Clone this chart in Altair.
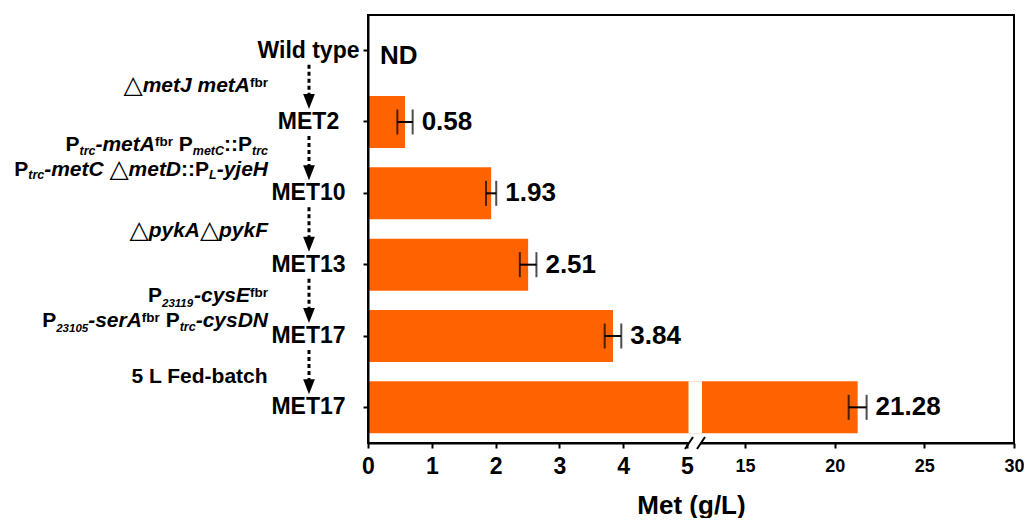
import altair as alt
import pandas as pd

# ---------------- data ----------------
strains = ["Wild type", "MET2", "MET10", "MET13", "MET17", "MET17 (5 L)"]
titers = [None, 0.58, 1.93, 2.51, 3.84, 21.28]
errors = [None, 0.12, 0.08, 0.13, 0.13, 0.50]
value_labels = ["ND", "0.58", "1.93", "2.51", "3.84", "21.28"]
x_ticks = [0, 1, 2, 3, 4, 5, 15, 20, 25, 30]
axis_break = [5, 12.6]          # broken-axis interval (g/L)
x_title = "Met (g/L)"

# genetic modifications between strains (text, style)
annotations = [
    [[("tri", "△"), ("bi", "metJ metA"), ("sup", "fbr")]],
    [[("b", "P"), ("sub", "trc"), ("bi", "-metA"), ("sup", "fbr"), ("gap", " "), ("b", "P"),
      ("sub", "metC"), ("b", "::P"), ("sub", "trc")],
     [("b", "P"), ("sub", "trc"), ("bi", "-metC"), ("gap", " "), ("tri", "△"), ("bi", "metD"),
      ("b", "::P"), ("sub", "L"), ("bi", "-yjeH")]],
    [[("tri", "△"), ("bi", "pykA"), ("tri", "△"), ("bi", "pykF")]],
    [[("b", "P"), ("sub2", "23119"), ("bi", "-cysE"), ("sup", "fbr")],
     [("b", "P"), ("sub2", "23105"), ("bi", "-serA"), ("sup", "fbr"), ("gap", " "), ("b", "P"),
      ("sub", "trc"), ("bi", "-cysDN")]],
    [[("b", "5 L Fed-batch")]],
]

# ---------------- layout / style ----------------
FONT = "Liberation Sans"
ORANGE = "#FF6200"
W, H = 646, 428
ORIGIN = (368, 15)               # plot origin on the page
BREAK_PX = [319, 334]            # pixel positions of the break interval

df = pd.DataFrame({"strain": strains, "titer": titers, "err": errors, "label": value_labels})
df["lo"] = df["titer"] - df["err"]
df["hi"] = df["titer"] + df["err"]

x_scale = alt.Scale(domain=[0, axis_break[0], axis_break[1], 30],
                    range=[0, BREAK_PX[0], BREAK_PX[1], W], nice=False)
y_scale = alt.Scale(domain=strains, paddingInner=0.27, paddingOuter=0.135)

x_axis = alt.Axis(
    values=x_ticks, format="d", grid=False, zindex=0,
    domainColor="black", domainWidth=2, tickColor="black", tickWidth=2, tickSize=5,
    labelFont=FONT, labelFontWeight="bold", labelColor="black",
    labelFontSize={"condition": {"test": "datum.value <= 5", "value": 23}, "value": 18},
    labelBaseline="middle", labelPadding=18, labelFlush=False, labelOverlap=False,
    titleFont=FONT, titleFontWeight="bold", titleFontSize=26, titleColor="black", titlePadding=14,
)
y_axis = alt.Axis(
    grid=False, zindex=1, domainColor="black", domainWidth=2, tickColor="black", tickWidth=2,
    tickSize=5, labelFont=FONT, labelFontWeight="bold", labelFontSize=23, labelColor="black",
    labelAlign="center", labelBaseline="middle", labelPadding=55,
    labelExpr="split(datum.value, ' (')[0]",
)

base = alt.Chart(df)
Y = alt.Y("strain:N", scale=y_scale, axis=y_axis, title=None)

bars = base.mark_bar(color=ORANGE).encode(
    x=alt.X("titer:Q", scale=x_scale, axis=x_axis, title=x_title), y=Y)

gap_df = pd.DataFrame({"strain": [strains[-1]], "b0": [axis_break[0]], "b1": [axis_break[1]]})
gap = alt.Chart(gap_df).mark_rect(color="white", xOffset=1.5).encode(
    x=alt.X("b0:Q", scale=x_scale), x2="b1:Q", y=alt.Y("strain:N", scale=y_scale))

err_rule = base.mark_rule(color="black", strokeWidth=2).encode(
    x=alt.X("lo:Q", scale=x_scale), x2="hi:Q", y=alt.Y("strain:N", scale=y_scale))
cap_lo = base.mark_tick(color="black", thickness=2, size=25).encode(
    x=alt.X("lo:Q", scale=x_scale), y=alt.Y("strain:N", scale=y_scale))
cap_hi = base.mark_tick(color="black", thickness=2, size=25).encode(
    x=alt.X("hi:Q", scale=x_scale), y=alt.Y("strain:N", scale=y_scale))

vlabels = base.transform_filter("isValid(datum.titer)").mark_text(
    align="left", baseline="middle", dx=9, font=FONT, fontWeight="bold", fontSize=26, color="black"
).encode(x=alt.X("hi:Q", scale=x_scale), y=alt.Y("strain:N", scale=y_scale), text="label:N")
nd = base.transform_filter("!isValid(datum.titer)").mark_text(
    align="left", baseline="middle", dx=12, dy=5, font=FONT, fontWeight="bold", fontSize=26, color="black"
).encode(x=alt.value(0), y=alt.Y("strain:N", scale=y_scale), text="label:N")

# arrows between strains
ARROW_X = 309 - ORIGIN[0]
arrow_df = pd.DataFrame({"strain": strains[:-1], "dst": strains[1:]})
dotted = alt.Chart(arrow_df).mark_rule(
    color="black", strokeWidth=3, strokeDash=[4, 3], yOffset=14, y2Offset=-27
).encode(x=alt.value(ARROW_X), y=alt.Y("strain:N", scale=y_scale), y2="dst:N")
heads = alt.Chart(arrow_df).mark_point(
    shape="M-0.78,-1L0.78,-1L0,1Z", size=225, filled=True, color="black", opacity=1, yOffset=-20.5
).encode(x=alt.value(ARROW_X), y=alt.Y("dst:N", scale=y_scale))

# broken-axis marks
axis_cut = alt.Chart(gap_df).mark_rect(color="white").encode(
    x=alt.value(BREAK_PX[0] + 2), x2=alt.value(BREAK_PX[1] - 1), y=alt.value(H - 4), y2=alt.value(H + 4))
slashes = []
for cx in (BREAK_PX[0] + 2, BREAK_PX[1] - 1):
    slashes.append(alt.Chart(gap_df).mark_rule(color="black", strokeWidth=2).encode(
        x=alt.value(cx - 4), x2=alt.value(cx + 4), y=alt.value(H + 6), y2=alt.value(H - 6)))

# annotation text (rich text built from segments)
CW = {" ": 278, "-": 333, ":": 333, ".": 278}
CW.update({d: 556 for d in "0123456789"})
CW.update(dict(zip("ABCDEFGHIJKLMNOPQRSTUVWXYZ",
                   [722, 722, 722, 722, 667, 611, 778, 722, 278, 556, 722, 611, 833, 722, 778, 667,
                    778, 722, 667, 611, 722, 667, 944, 667, 667, 611])))
CW.update(dict(zip("abcdefghijklmnopqrstuvwxyz",
                   [556, 611, 556, 611, 556, 333, 611, 611, 278, 278, 556, 278, 889, 611, 611, 611,
                    611, 389, 556, 333, 611, 556, 778, 556, 556, 500])))
STY = {
    "b": (21, "normal", 0), "bi": (21, "italic", 0), "sub": (12.5, "italic", 3.5),
    "sub2": (11.5, "italic", 5), "sup": (13.5, "normal", -5),
}
RIGHT = 268 - ORIGIN[0]
BASELINES = [[91.5], [151, 175.5], [236.5], [301.5, 327], [383]]

ann_layers = []
one = pd.DataFrame({"k": [0]})
for lines, bls in zip(annotations, BASELINES):
    for segs, bl in zip(lines, bls):
        y0 = bl - ORIGIN[1]
        x = RIGHT
        for kind, txt in reversed(segs):
            if kind == "tri":
                w = 19
            elif kind == "gap":
                w = 0.278 * 21
            else:
                w = sum(CW.get(c, 556) for c in txt) / 1000 * STY[kind][0]
            x -= w
            if kind == "gap":
                continue
            if kind == "tri":
                ann_layers.append(alt.Chart(one).mark_text(
                    align="center", baseline="alphabetic", font="DejaVu Sans", fontSize=25,
                    fontWeight="normal", color="black"
                ).encode(x=alt.value(x + w / 2), y=alt.value(y0 + 1), text=alt.value(txt)))
            else:
                fs, st, dy = STY[kind]
                ann_layers.append(alt.Chart(one).mark_text(
                    align="left", baseline="alphabetic", font=FONT, fontSize=fs, fontWeight="bold",
                    fontStyle=st, color="black"
                ).encode(x=alt.value(x), y=alt.value(y0 + dy), text=alt.value(txt)))

chart = alt.layer(
    bars, gap, err_rule, cap_lo, cap_hi, vlabels, nd, dotted, heads, axis_cut, *slashes, *ann_layers
).properties(
    width=W, height=H,
    autosize=alt.AutoSizeParams(type="none"),
    padding={"left": ORIGIN[0] - 8, "top": ORIGIN[1] - 8, "right": 10, "bottom": 75},
).configure_view(stroke="black", strokeWidth=2)

chart.save("out.html", embed_options={"renderer": "svg", "actions": False})
